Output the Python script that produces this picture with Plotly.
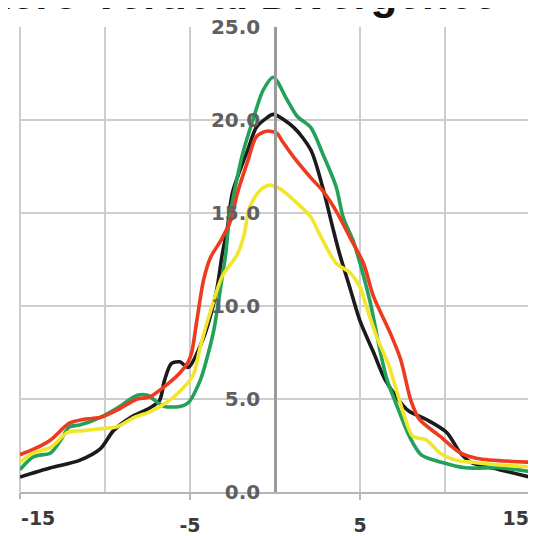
import plotly.graph_objects as go

# Offsets (x) and values (y)
black_x = [-15.0, -13.2, -11.5, -10.3, -9.5, -8.5, -7.4, -6.8, -6.5, -6.1, -5.6, -5.1, -4.2, -3.7, -3.4, -3.1, -2.8, -2.5, -1.6, -1.1, -0.5, -0.1, 1.1, 2.1, 2.8, 3.4, 3.8, 4.4, 5.0, 5.8, 6.5, 7.8, 8.9, 10.1, 10.9, 11.5, 13.2, 15.0]
black_y = [0.8, 1.3, 1.7, 2.3, 3.3, 4.0, 4.5, 4.9, 6.0, 6.9, 7.0, 6.7, 8.3, 9.8, 11.0, 12.8, 14.2, 16.1, 18.4, 19.6, 20.1, 20.3, 19.6, 18.4, 16.4, 14.2, 12.8, 11.0, 9.2, 7.5, 6.0, 4.4, 3.9, 3.2, 2.1, 1.6, 1.2, 0.8]

green_x = [-15.0, -14.2, -13.2, -12.6, -12.1, -11.5, -10.3, -9.3, -8.1, -7.5, -6.9, -6.5, -5.6, -5.1, -4.4, -4.0, -3.6, -3.4, -3.2, -2.9, -2.7, -2.4, -1.9, -1.3, -0.7, -0.1, 0.7, 1.3, 2.1, 2.8, 3.6, 4.0, 4.6, 5.0, 5.6, 6.2, 6.6, 7.1, 7.9, 8.6, 9.8, 11.2, 13.2, 15.0]
green_y = [1.2, 1.9, 2.1, 2.8, 3.5, 3.6, 4.0, 4.5, 5.2, 5.2, 4.8, 4.6, 4.6, 4.8, 6.0, 7.2, 8.7, 9.8, 11.0, 12.8, 14.6, 16.1, 18.2, 20.0, 21.6, 22.3, 21.1, 20.2, 19.6, 18.2, 16.4, 14.8, 13.5, 12.3, 10.2, 7.5, 6.0, 4.8, 3.0, 2.0, 1.6, 1.3, 1.3, 1.1]

yellow_x = [-15.0, -14.2, -13.2, -12.2, -11.3, -10.3, -9.3, -8.3, -7.4, -6.4, -5.6, -4.8, -4.4, -3.8, -3.1, -2.2, -1.8, -1.5, -0.9, -0.3, 0.3, 1.1, 2.1, 2.6, 3.6, 4.4, 5.0, 5.4, 6.0, 6.7, 7.5, 8.1, 8.9, 9.7, 10.7, 11.6, 13.2, 15.0]
yellow_y = [1.6, 2.1, 2.4, 3.2, 3.3, 3.4, 3.5, 4.0, 4.3, 4.8, 5.4, 6.3, 7.8, 9.7, 11.6, 12.8, 13.9, 15.3, 16.2, 16.5, 16.3, 15.7, 14.8, 13.9, 12.3, 11.8, 11.0, 9.9, 8.3, 6.8, 4.4, 3.0, 2.8, 2.1, 1.7, 1.6, 1.45, 1.35]

red_x = [-15.0, -14.2, -13.2, -12.1, -11.3, -10.3, -9.3, -8.1, -7.4, -6.6, -5.6, -5.1, -4.9, -4.6, -4.2, -3.8, -3.2, -2.6, -2.2, -1.6, -1.1, -0.5, 0.1, 0.4, 1.1, 2.1, 2.8, 3.6, 4.4, 5.2, 5.8, 6.8, 7.4, 8.0, 8.5, 9.7, 10.9, 11.9, 15.0]
red_y = [2.0, 2.3, 2.8, 3.7, 3.9, 4.0, 4.4, 5.0, 5.1, 5.6, 6.4, 7.0, 7.5, 9.2, 11.4, 12.6, 13.5, 14.6, 16.1, 17.8, 19.1, 19.4, 19.3, 18.9, 18.0, 16.9, 16.2, 15.1, 13.7, 12.3, 10.5, 8.5, 7.1, 4.9, 3.9, 3.0, 2.1, 1.8, 1.6]

x_tick_vals = [-5, 5]
x_tick_text = ["-5", "5"]
x_left_tick_vals = [-15]
x_left_tick_text = ["-15"]
x_right_tick_vals = [15]
x_right_tick_text = ["15"]
y_tick_vals = [0, 5, 10, 15, 20, 25]
y_tick_text = ["0.0", "5.0", "10.0", "15.0", "20.0", "25.0"]
title_text = "Zero Vertical Divergence"

series = [
    (black_x, black_y, "#1b1b1b", "x"),
    (green_x, green_y, "#23a05a", "x"),
    (yellow_x, yellow_y, "#f2e62c", "x3"),
    (red_x, red_y, "#ee3a1f", "x2"),
]

fig = go.Figure()
for xs, ys, col, xa in series:
    fig.add_trace(go.Scatter(x=xs, y=ys, mode="lines", xaxis=xa, yaxis="y",
                             line=dict(color=col, width=3.6, shape="spline", smoothing=0.8),
                             showlegend=False, hoverinfo="skip"))

grid_col = "#cdcdcd"
tick_font = dict(family="DejaVu Sans", size=19, color="#3a3a3a", weight="bold")
edge_axis = dict(
    range=[-15, 15], overlaying="x", anchor="y", side="bottom",
    showgrid=False, zeroline=False, showline=False,
    ticks="outside", ticklen=6, tickcolor="#b5b5b5", tickwidth=2,
    ticklabelstandoff=9, ticklabeloverflow="allow", automargin=False,
    tickfont=tick_font, fixedrange=True,
)
# the page body adds an 8px offset, so the figure is 528px and margins are shifted
fig.update_layout(
    width=528, height=528,
    margin=dict(l=12, r=6, t=19, b=44, autoexpand=False),
    paper_bgcolor="white", plot_bgcolor="white",
    showlegend=False,
    xaxis=dict(
        range=[-15, 15], tickvals=x_tick_vals, ticktext=x_tick_text,
        showgrid=True, gridcolor=grid_col, gridwidth=2,
        minor=dict(dtick=5, tick0=0, showgrid=True, gridcolor=grid_col, gridwidth=2),
        zeroline=False, showline=True, linecolor="#b5b5b5", linewidth=2,
        ticks="outside", ticklen=6, tickcolor="#b5b5b5", tickwidth=2,
        ticklabelstandoff=9, ticklabeloverflow="allow", automargin=False,
        tickfont=tick_font, fixedrange=True,
    ),
    xaxis2=dict(edge_axis, tickvals=x_left_tick_vals, ticktext=x_left_tick_text,
                ticklabelposition="outside right"),
    xaxis3=dict(edge_axis, tickvals=x_right_tick_vals, ticktext=x_right_tick_text,
                ticklabelposition="outside left"),
    yaxis=dict(
        range=[0, 25], tickvals=y_tick_vals, ticktext=y_tick_text,
        anchor="free", position=0.5,
        showgrid=True, gridcolor=grid_col, gridwidth=2,
        zeroline=False, showline=True, linecolor="#9a9a9a", linewidth=2.5,
        ticks="", ticklabelstandoff=10, ticklabeloverflow="allow", automargin=False,
        tickfont=dict(family="DejaVu Sans", size=20, color="#606060", weight="bold"),
        fixedrange=True,
    ),
    shapes=[
        dict(type="line", xref="paper", yref="paper", x0=0, x1=0, y0=0, y1=1,
             line=dict(color=grid_col, width=2), layer="below"),
        dict(type="line", xref="paper", yref="paper", x0=1, x1=1, y0=0, y1=1,
             line=dict(color=grid_col, width=2), layer="below"),
    ],
    annotations=[dict(
        text="<b>" + title_text + "</b>", xref="paper", yref="paper",
        x=0.433, y=1.071, xanchor="center", yanchor="middle", showarrow=False,
        font=dict(family="Liberation Sans", size=44, color="#111111"),
    )],
)

fig.write_html("out.html")
